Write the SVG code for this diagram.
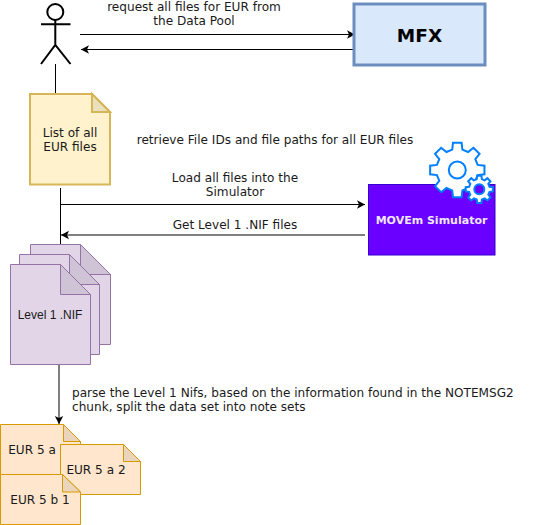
<svg xmlns="http://www.w3.org/2000/svg" xmlns:xlink="http://www.w3.org/1999/xlink" width="541" height="525" viewBox="0 0 541 525">
<style>
text{font-family:"DejaVu Sans",Verdana,sans-serif;font-size:12.1px;fill:#1a1a1a;text-anchor:middle}
.line{fill:none;stroke:#000;stroke-width:1}
.y{fill:#fff2cc;stroke:#d6b656;stroke-width:2}
.yf{fill:#ebe0bd;stroke:#d6b656;stroke-width:2}
.p{fill:#e1d5e7;stroke:#9673a6;stroke-width:1}
.pf{fill:#cfc4d5;stroke:#9673a6;stroke-width:1}
.o{fill:#ffe6cc;stroke:#d79b00;stroke-width:1}
.of{fill:#ebd4bc;stroke:#d79b00;stroke-width:1}
.gear{fill:#fff;stroke:#007fff;stroke-width:2}
</style>
<defs>
<marker id="arr" markerUnits="userSpaceOnUse" markerWidth="9" markerHeight="10" refX="8" refY="5" orient="auto"><path d="M0 0.8L8 5L0 9.2L2 5Z" fill="#000"/></marker>
<path id="g" d="M-5.08-20.38L-4.3-27.16L4.3-27.16L5.08-20.38L10.82-18L16.16-22.25L22.25-16.16L18-10.82L20.38-5.08L27.16-4.3L27.16 4.3L20.38 5.08L18 10.82L22.25 16.16L16.16 22.25L10.82 18L5.08 20.38L4.3 27.16L-4.3 27.16L-5.08 20.38L-10.82 18L-16.16 22.25L-22.25 16.16L-18 10.82L-20.38 5.08L-27.16 4.3L-27.16-4.3L-20.38-5.08L-18-10.82L-22.25-16.16L-16.16-22.25L-10.82-18Z"/>
</defs>
<g id="connectors">
<path class="line" d="M55.5 64V94"/>
<path class="line" d="M60.5 188V244"/>
<path class="line" d="M80 34.500H355" marker-end="url(#arr)"/>
<path class="line" d="M355 49.500H81" marker-end="url(#arr)"/>
<path class="line" d="M60.500 204.500H365" marker-end="url(#arr)"/>
<path class="line" d="M365 235H61" marker-end="url(#arr)"/>
<path class="line" d="M59 364V424" marker-end="url(#arr)"/>
</g>
<g id="actor" fill="none" stroke="#000" stroke-width="2">
<circle cx="55.300" cy="12" r="8" fill="#fff"/>
<path d="M55.300 20V45M41 24.300H70.500M41 64L55.300 45L70.500 64"/>
</g>
<g id="label-request"><text x="194" y="11">request all files for EUR from</text><text x="194" y="25">the Data Pool</text></g>
<g id="mfx"><rect x="354" y="4" width="131" height="61" fill="#dae8fc" stroke="#6c8ebf" stroke-width="3"/><text x="419.500" y="42" style="font-size:18.500px;font-weight:bold;fill:#000">MFX</text></g>
<g id="list"><path class="y" d="M30 94H92L110 112V184.500H30Z"/><path class="yf" d="M92 94V112H110Z"/><text x="70" y="137">List of all</text><text x="70" y="151">EUR files</text></g>
<g id="label-retrieve"><text x="275" y="144">retrieve File IDs and file paths for all EUR files</text></g>
<g id="label-load"><text x="235" y="182">Load all files into the</text><text x="235" y="196">Simulator</text></g>
<g id="label-get"><text x="235" y="229">Get Level 1 .NIF files</text></g>
<g id="simulator">
<rect x="368.500" y="184.500" width="126.500" height="70.500" fill="#6a00ff" stroke="#3700cc"/>
<text x="431.500" y="224" style="font-size:11px;font-weight:bold;fill:#f0e6ff">MOVEm Simulator</text>
<use xlink:href="#g" href="#g" class="gear" transform="translate(457.300 170)"/>
<circle cx="457.300" cy="170" r="8.500" fill="#fff" stroke="#007fff" stroke-width="2"/>
<use xlink:href="#g" href="#g" class="gear" transform="translate(479.300 189.300) scale(.5)" style="stroke-width:4"/>
<circle cx="479.300" cy="189.300" r="5" fill="#6a00ff" stroke="#007fff" stroke-width="2"/>
</g>
<g id="nif3"><path class="p" d="M30.500 244.500H80.500L110.500 274.500V344.500H30.500Z"/><path class="pf" d="M80.500 244.500V274.500H110.500Z"/></g>
<g id="nif2"><path class="p" d="M19.500 254.500H69.500L99.500 284.500V354.500H19.500Z"/><path class="pf" d="M69.500 254.500V284.500H99.500Z"/></g>
<g id="nif1"><path class="p" d="M10.500 264.500H60.500L90.500 294.500V364.500H10.500Z"/><path class="pf" d="M60.500 264.500V294.500H90.500Z"/><text x="50" y="319" style="font-family:'Liberation Sans',Arial,sans-serif;font-size:12px">Level 1 .NIF</text></g>
<g id="label-parse"><text x="72" y="397" style="text-anchor:start">parse the Level 1 Nifs, based on the information found in the NOTEMSG2</text><text x="72" y="411" style="text-anchor:start">chunk, split the data set into note sets</text></g>
<g id="eur-a"><path class="o" d="M0.500 424.500H63.500L80.500 441.500V474.500H0.500Z"/><path class="of" d="M63.500 424.500V441.500H80.500Z"/><text x="32" y="454">EUR 5 a</text></g>
<g id="eur-a2"><path class="o" d="M60.500 444.500H123.500L140.500 461.500V494.500H60.500Z"/><path class="of" d="M123.500 444.500V461.500H140.500Z"/><text x="96" y="474">EUR 5 a 2</text></g>
<g id="eur-b1"><path class="o" d="M0.500 474.500H62.500L80.500 492V524.500H0.500Z"/><path class="of" d="M62.500 474.500V492H80.500Z"/><text x="40" y="504">EUR 5 b 1</text></g>
</svg>
